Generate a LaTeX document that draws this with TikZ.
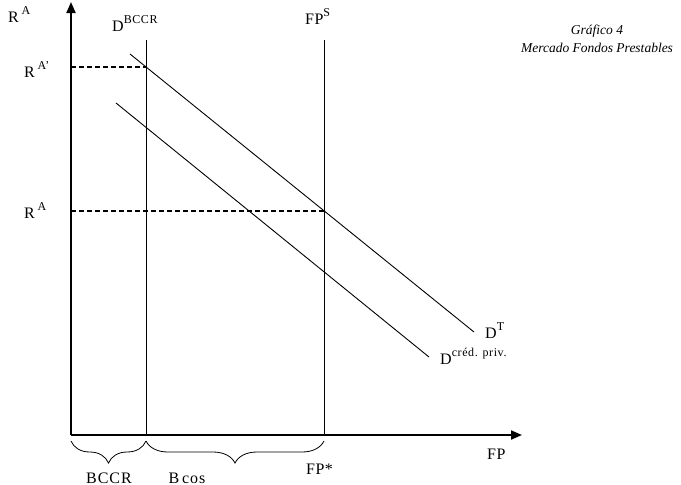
\documentclass[tikz,border=0pt]{standalone}
\usepackage{fontspec}
\setmainfont{Liberation Serif}
\usetikzlibrary{arrows.meta,decorations.pathreplacing}
\newcommand{\supx}[1]{\raisebox{0.48em}{\fontsize{12}{12}\selectfont\addfontfeatures{LetterSpace=5}#1}}
\tikzset{
  axis/.style={line width=2pt,-{Triangle[length=11pt,width=9pt]}},
  curve/.style={line width=0.9pt},
  guide/.style={line width=1.4pt,dash pattern=on 5pt off 3pt},
  lbl/.style={anchor=base west,inner sep=0pt,font=\fontsize{16}{18}\selectfont\addfontfeatures{LetterSpace=3}},
  lblc/.style={anchor=base,inner sep=0pt,font=\fontsize{16}{18}\selectfont\addfontfeatures{LetterSpace=6}},
  brc/.style={decorate,decoration={brace,mirror,amplitude=22pt},line width=0.8pt},
  ttl/.style={anchor=base,inner sep=0pt,font=\fontsize{13.5}{15}\selectfont\itshape\addfontfeatures{LetterSpace=0}}
}
\begin{document}
\begin{tikzpicture}[x=1pt,y=-1pt]
\useasboundingbox (0,0) rectangle (681,485);
% key points
\coordinate (O) at (71,435);
\coordinate (ytop) at (71,2);
\coordinate (xend) at (522,435);
\coordinate (bccrT) at (146,40);
\coordinate (bccrB) at (146,435);
\coordinate (fpsT) at (324,40);
\coordinate (fpsB) at (324,435);
\coordinate (ra1L) at (71,67);
\coordinate (ra1R) at (146,67);
\coordinate (raL) at (71,211);
\coordinate (raR) at (324,211);
\coordinate (dtA) at (130,54);
\coordinate (dtB) at (474,332);
\coordinate (dcA) at (116,103);
\coordinate (dcB) at (429,357);
% lines
\draw[curve] (bccrT) -- (bccrB);
\draw[curve] (fpsT) -- (fpsB);
\draw[guide] (ra1L) -- (ra1R);
\draw[guide] (raL) -- (raR);
\draw[curve] (dtA) -- (dtB);
\draw[curve] (dcA) -- (dcB);
\draw[axis] (O) -- (ytop);
\draw[axis] (O) -- (xend);
% braces
\coordinate (b1) at (71,441);
\coordinate (b2) at (146,441);
\coordinate (b3) at (324,441);
\draw[brc] (b1) -- (b2);
\draw[brc] (b2) -- (b3);
% labels
\node[lbl] (lRA) at (8,22) {R\,\supx{A}};
\node[lbl] (lDB) at (112,31) {D\supx{BCCR}};
\node[lbl] (lRAp) at (24,77) {R\,\supx{A'}};
\node[lbl] (lRA2) at (24,218) {R\,\supx{A}};
\node[lbl] (lFPS) at (305,24) {FP\supx{S}};
\node[ttl] (t1) at (597,34) {Gráfico 4};
\node[ttl] (t2) at (597,52) {Mercado Fondos Prestables};
\node[lbl] (lDT) at (485,338) {D\supx{T}};
\node[lbl] (lDC) at (440,364) {D\supx{créd. priv.}};
\node[lbl] (lFP) at (487,459) {FP};
\node[lbl] (lFPst) at (306,474) {FP*};
\node[lblc] (lBC) at (109,483) {BCCR};
\node[lblc] (lBcos) at (187,483) {B\,cos};
\end{tikzpicture}
\end{document}
